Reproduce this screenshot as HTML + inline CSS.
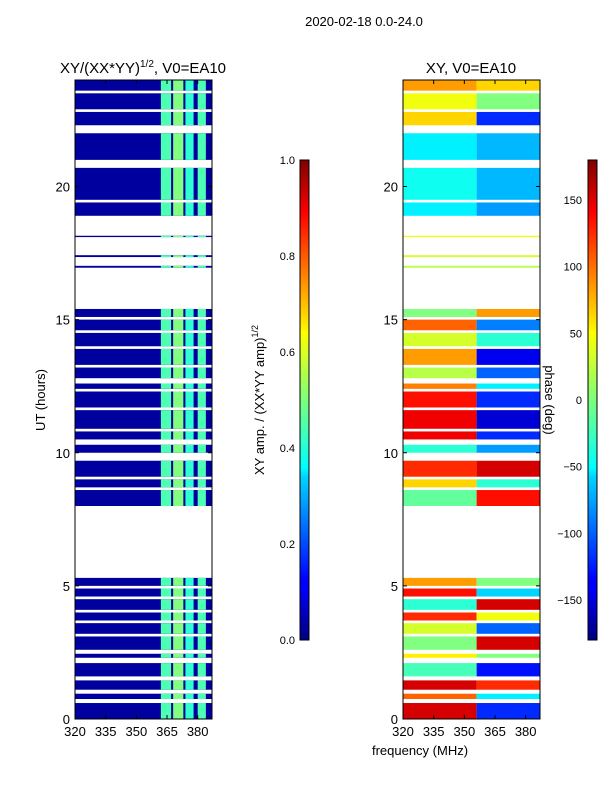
<!DOCTYPE html>
<html><head><meta charset="utf-8"><style>
body{margin:0;background:#fff;}
svg text{font-family:"Liberation Sans","DejaVu Sans",sans-serif;fill:#000;}
</style></head><body>
<svg id="chart" width="600" height="800" xmlns="http://www.w3.org/2000/svg">
<defs>
<linearGradient id="jet" x1="0" y1="1" x2="0" y2="0">
<stop offset="0" stop-color="#00007f"/><stop offset="0.11" stop-color="#0000ff"/><stop offset="0.125" stop-color="#0000ff"/>
<stop offset="0.34" stop-color="#00d4ff"/><stop offset="0.36" stop-color="#0ff"/><stop offset="0.5" stop-color="#7dff7a"/>
<stop offset="0.64" stop-color="#ff0"/><stop offset="0.66" stop-color="#ffe600"/><stop offset="0.89" stop-color="#f00"/><stop offset="1" stop-color="#7f0000"/>
</linearGradient>
</defs>
<text x="364" y="26" font-size="13" text-anchor="middle">2020-02-18 0.0-24.0</text>
<text x="143" y="73" font-size="15" text-anchor="middle">XY/(XX*YY)<tspan dy="-6" font-size="10">1/2</tspan><tspan dy="6">, V0=EA10</tspan></text>
<text x="471" y="73" font-size="15" text-anchor="middle">XY, V0=EA10</text>
<text transform="translate(45,400) rotate(-90)" font-size="13" text-anchor="middle">UT (hours)</text>
<text x="420" y="755" font-size="13" text-anchor="middle">frequency (MHz)</text>
<text transform="translate(264,400) rotate(-90)" font-size="13" text-anchor="middle">XY amp. / (XX*YY amp)<tspan dy="-6" font-size="9">1/2</tspan></text>
<text transform="translate(545,400) rotate(90)" font-size="13" text-anchor="middle">phase (deg)</text>
<g id="g1"></g><g id="g2"></g><g id="axes"></g>
<rect x="300" y="160" width="9" height="480" fill="url(#jet)" stroke="#000"/>
<rect x="588" y="160" width="9" height="480" fill="url(#jet)" stroke="#000"/>
</svg>
<script>
const segments=[[0,0.6],[0.75,0.95],[1.1,1.45],[1.6,2.1],[2.3,2.45],[2.6,3.1],[3.2,3.6],[3.7,4.0],[4.1,4.5],[4.6,4.9],[5.0,5.3],
[8.0,8.6],[8.7,9.0],[9.1,9.7],[10.0,10.3],[10.5,10.8],[10.9,11.6],[11.7,12.3],[12.4,12.6],[12.8,13.2],[13.3,13.9],[14.0,14.5],[14.6,15.0],[15.1,15.4],
[16.95,17.02],[17.35,17.42],[18.1,18.15],[18.9,19.4],[19.5,20.7],[21.0,22.0],[22.3,22.8],[22.9,23.5],[23.6,24]];
const phaseLow=[150,100,150,-20,50,0,30,120,-30,130,80,-10,60,120,-30,140,140,130,90,20,80,30,100,0,20,30,40,-50,-40,-50,60,40,80];
const phaseHigh=[-120,-50,120,-130,0,150,-100,40,150,-60,0,130,-30,150,-80,-120,-150,-120,-50,-100,-140,-30,-90,80,20,30,40,-80,-70,-70,-120,0,60];
const ampBase=0.03;
const ampBands=[[362,367],[368,373],[374,378],[380,384]];
const ampBandValues=[0.45,0.5,0.42,0.45];
const yTicks=[0,5,10,15,20];
const xTicks=[320,335,350,365,380];
const ampTicks=[0,0.2,0.4,0.6,0.8,1.0];
const phaseTicks=[-150,-100,-50,0,50,100,150];
const NS="http://www.w3.org/2000/svg";
const y=h=>719-h*(639/24);
const x1=f=>75+(f-320)*137/67;
const x2=f=>403+(f-320)*137/67;
function jet(v){v=Math.max(0,Math.min(1,v));const r=Math.min(4*v-1.5,-4*v+4.5),g=Math.min(4*v-0.5,-4*v+3.5),b=Math.min(4*v+0.5,-4*v+2.5);
const c=t=>Math.round(255*Math.max(0,Math.min(1,t)));return `rgb(${c(r)},${c(g)},${c(b)})`;}
function rect(g,x,yy,w,h,fill){const r=document.createElementNS(NS,'rect');r.setAttribute('x',x);r.setAttribute('y',yy);r.setAttribute('width',w);r.setAttribute('height',h);r.setAttribute('fill',fill);g.appendChild(r);return r;}
const g1=document.getElementById('g1'),g2=document.getElementById('g2'),ax=document.getElementById('axes');
segments.forEach((s,i)=>{
 const top=y(s[1]),hh=y(s[0])-y(s[1]);
 let r=rect(g1,x1(320),top,x1(387)-x1(320),hh,jet(ampBase));
 
 
 ampBands.forEach((b,j)=>{let c=rect(g1,x1(b[0]),top,x1(b[1])-x1(b[0]),hh,jet(ampBandValues[j]));
  
  });
 let p=rect(g2,x2(320),top,x2(356)-x2(320),hh,jet((phaseLow[i]+180)/360));
 
 
 let q=rect(g2,x2(356),top,x2(387)-x2(356),hh,jet((phaseHigh[i]+180)/360));
 
 
});
function txt(xx,yy,s,anchor,size){const t=document.createElementNS(NS,'text');t.setAttribute('x',xx);t.setAttribute('y',yy);t.setAttribute('text-anchor',anchor);t.setAttribute('font-size',size);t.textContent=s;ax.appendChild(t);return t;}
function line(a,b,c,d){const l=document.createElementNS(NS,'line');l.setAttribute('x1',a);l.setAttribute('y1',b);l.setAttribute('x2',c);l.setAttribute('y2',d);l.setAttribute('stroke','#000');ax.appendChild(l);}
[[75,x1],[403,x2]].forEach(([L,xf],k)=>{
 const fr=document.createElementNS(NS,'rect');fr.setAttribute('x',L);fr.setAttribute('y',80);fr.setAttribute('width',137);fr.setAttribute('height',639);fr.setAttribute('fill','none');fr.setAttribute('stroke','#000');
 
 
 ax.appendChild(fr);
 yTicks.forEach(v=>{line(L,y(v),L+4,y(v));line(L+137,y(v),L+133,y(v));const t=txt(L-5,y(v)+5,v,'end',13);
  
  });
 xTicks.forEach(v=>{line(xf(v),719,xf(v),715);line(xf(v),80,xf(v),84);const t=txt(xf(v),736,v,'middle',13);
  
  });
});
ampTicks.forEach(v=>{const yy=640-v*480;line(305,yy,309,yy);const t=txt(295,yy+4,v.toFixed(1),'end',11);
 
 });
phaseTicks.forEach(v=>{const yy=400-v*480/360;line(593,yy,597,yy);const t=txt(582,yy+4,v<0?'\u2212'+(-v):v,'end',11);
 
 });
</script>
</body></html>
